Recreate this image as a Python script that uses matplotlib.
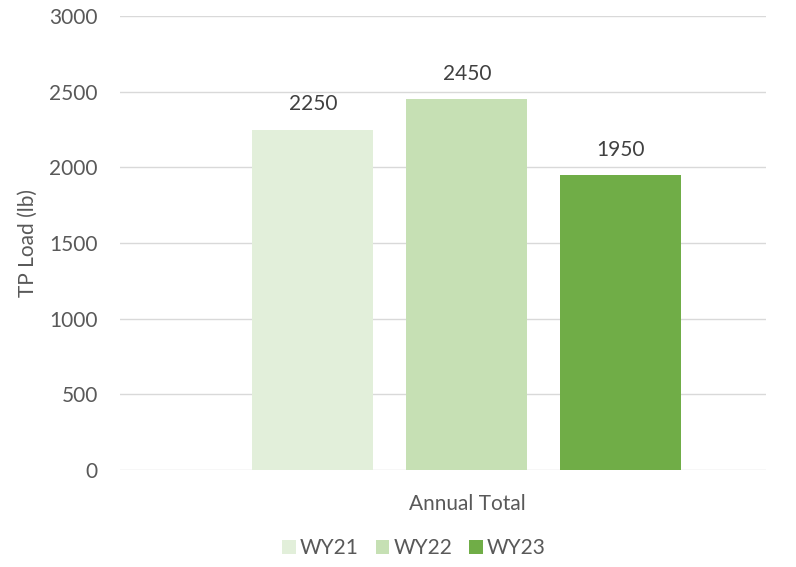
import matplotlib
matplotlib.use('Agg')
import matplotlib.pyplot as plt

# values
series = ['WY21', 'WY22', 'WY23']
loads = [2250, 2450, 1950]
colors = ['#E2EFDA', '#C6E0B4', '#70AD47']
category = 'Annual Total'

plt.rcParams['font.family'] = ['Lato', 'DejaVu Sans']
txt = '#595959'
fs = 15

fig = plt.figure(figsize=(7.96, 5.67), dpi=100)
ax = fig.add_axes([120/796, 1-470/567, 646/796, 454/567])

width = 121/154
for i, (name, val, c) in enumerate(zip(series, loads, colors)):
    ax.bar(i, val, width=width, color=c, label=name, zorder=3)
    ax.text(i, val + 100, f'{val}', ha='center', va='bottom',
            fontsize=fs, color='#404040')

ax.set_ylim(0, 3000)
ax.set_yticks(range(0, 3001, 500))
ax.set_xlim(-1.253, 2.942)
ax.set_xticks([1])
ax.set_xticklabels([category])
ax.grid(axis='y', color='#D9D9D9', linewidth=1, zorder=0)
for s in ax.spines.values():
    s.set_visible(False)
ax.tick_params(axis='both', length=0, labelsize=fs, labelcolor=txt)
ax.tick_params(axis='y', pad=16)
ax.tick_params(axis='x', pad=17)
ax.set_ylabel('TP Load (lb)', fontsize=fs, color=txt, labelpad=8)

fig.legend(loc='center', bbox_to_anchor=(414/796, 1-548/567), ncol=3,
           frameon=False, fontsize=fs, labelcolor=txt,
           handlelength=0.65, handleheight=0.65, handletextpad=0.2,
           columnspacing=0.8)

fig.savefig('out.png', dpi=100)
